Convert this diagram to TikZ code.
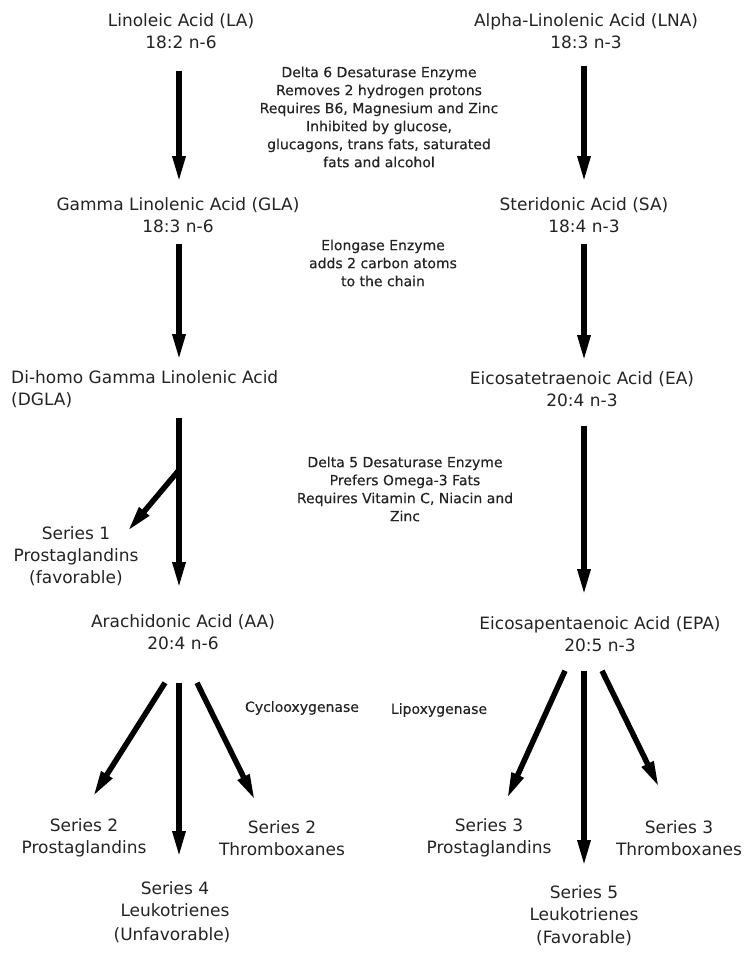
\documentclass[tikz,border=0pt]{standalone}
\usepackage{fontspec}
\setmainfont{DejaVu Sans}
\newfontfamily\notefont{DejaVu Sans}[FakeBold=0.35]
\usetikzlibrary{arrows.meta}
\definecolor{txt}{RGB}{35,35,35}
\tikzset{
  lbl/.style={align=center, inner sep=0pt, text=txt, font=\fontsize{17}{22}\selectfont},
  note/.style={align=center, inner sep=0pt, text=txt, font=\notefont\fontsize{14}{18}\selectfont},
  arr/.style={line width=5.5pt, draw=black, -{Triangle[width=12pt,length=26pt]}}
}
\begin{document}
\begin{tikzpicture}[x=1pt,y=-1pt]
\useasboundingbox (0,0) rectangle (744,957);
\coordinate (cL) at (179,0);
\coordinate (cR) at (584,0);
% main labels
\node[lbl] (LA) at (181,31) {Linoleic Acid (LA)\\18:2 n-6};
\node[lbl] (LNA) at (586,31) {Alpha-Linolenic Acid (LNA)\\18:3 n-3};
\node[lbl] (GLA) at (178,215) {Gamma Linolenic Acid (GLA)\\18:3 n-6};
\node[lbl] (SA) at (584,215) {Steridonic Acid (SA)\\18:4 n-3};
\node[lbl, align=left, anchor=west] (DGLA) at (11,389) {Di-homo Gamma Linolenic Acid\\(DGLA)};
\node[lbl] (EA) at (582,389) {Eicosatetraenoic Acid (EA)\\20:4 n-3};
\node[lbl] (AA) at (183,632) {Arachidonic Acid (AA)\\20:4 n-6};
\node[lbl] (EPA) at (600,634) {Eicosapentaenoic Acid (EPA)\\20:5 n-3};
\node[lbl] (S1) at (76,556) {Series 1\\Prostaglandins\\(favorable)};
\node[lbl] (S2P) at (84,838) {Series 2\\Prostaglandins};
\node[lbl] (S2T) at (282,838) {Series 2\\Thromboxanes};
\node[lbl] (S4L) at (175,899) {Series 4\\Leukotrienes};
\node[lbl] (UNF) at (172,935) {(Unfavorable)};
\node[lbl] (S3P) at (489,838) {Series 3\\Prostaglandins};
\node[lbl] (S3T) at (679,838) {Series 3\\Thromboxanes};
\node[lbl] (S5L) at (584,903) {Series 5\\Leukotrienes};
\node[lbl] (FAV) at (584,938) {(Favorable)};
% notes
\node[note] (D6) at (379,117) {Delta 6 Desaturase Enzyme\\Removes 2 hydrogen protons\\Requires B6, Magnesium and Zinc\\Inhibited by glucose,\\glucagons, trans fats, saturated\\fats and alcohol};
\node[note] (ELO) at (383,263) {Elongase Enzyme\\adds 2 carbon atoms\\to the chain};
\node[note] (D5) at (405,489) {Delta 5 Desaturase Enzyme\\Prefers Omega-3 Fats\\Requires Vitamin C, Niacin and\\Zinc};
\node[note] (COX) at (302,708) {Cyclooxygenase};
\node[note] (LOX) at (439,710) {Lipoxygenase};
% column arrows
\draw[arr, shorten <=22pt, shorten >=15pt] (LA.south -| cL) -- (GLA.north -| cL);
\draw[arr, shorten <=17pt, shorten >=15pt] (LNA.south -| cR) -- (SA.north -| cR);
\draw[arr, shorten <=11pt, shorten >=10pt] (GLA.south -| cL) -- (DGLA.north -| cL);
\draw[arr, shorten <=11pt, shorten >=10pt] (SA.south -| cR) -- (EA.north -| cR);
\draw[arr, shorten <=10pt, shorten >=26pt] (DGLA.south -| cL) -- (AA.north -| cL);
\draw[arr, shorten <=19pt, shorten >=21pt] (EA.south -| cR) -- (EPA.north -| cR);
% branch to series 1
\coordinate (br) at (179,470);
\draw[arr] (br) -- ([shift={(-11,5)}]S1.north east);
% AA products
\draw[arr] ([shift={(-18,33)}]AA.south) -- ([shift={(9,-22)}]S2P.north);
\draw[arr, shorten <=33pt, shorten >=24pt] (AA.south -| cL) -- (S4L.north -| cL);
\draw[arr] ([shift={(14,33)}]AA.south) -- ([shift={(-27,-20)}]S2T.north);
% EPA products
\draw[arr] ([shift={(-35,19)}]EPA.south) -- ([shift={(18,-20)}]S3P.north);
\draw[arr, shorten <=19pt, shorten >=19pt] (EPA.south -| cR) -- (S5L.north -| cR);
\draw[arr] ([shift={(2,19)}]EPA.south) -- ([shift={(-20,-33)}]S3T.north);
\end{tikzpicture}
\end{document}
